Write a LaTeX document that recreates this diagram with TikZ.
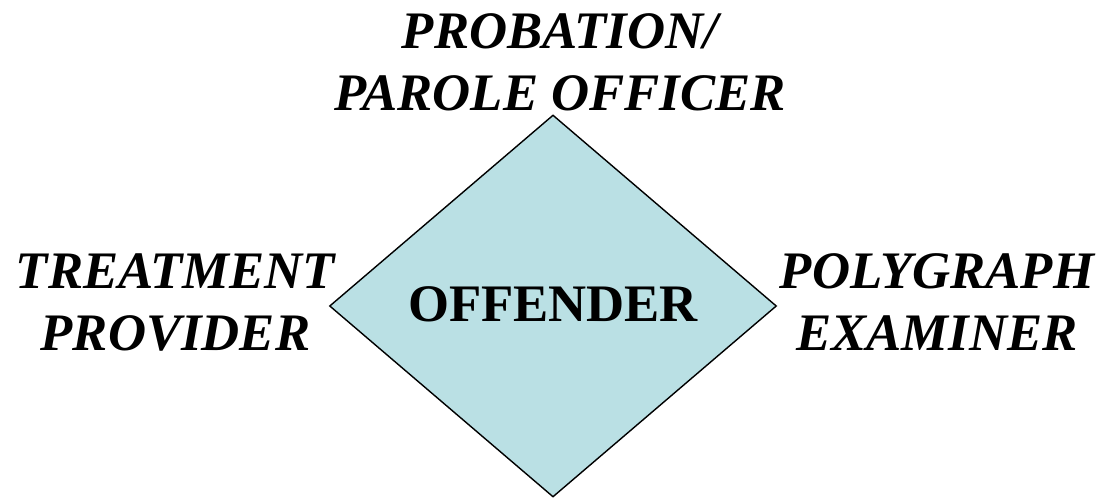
\documentclass[tikz,border=0pt]{standalone}
\usepackage{fontspec}
\setmainfont{Liberation Serif}
\usetikzlibrary{shapes.geometric,positioning}
\definecolor{paleblue}{HTML}{BAE0E4}

\begin{document}
\begin{tikzpicture} [node distance=7.6cm]
\useasboundingbox (0,0) rectangle (22,9.98);
\tikzset{role/.style={align=center, inner sep=0pt, font=\fontsize{30}{35.5}\selectfont\bfseries\itshape}}
\node[diamond, draw, line width=0.8pt, fill=paleblue, inner sep=0pt, minimum width=8.94cm, minimum height=7.64cm,
      font=\fontsize{30}{36}\selectfont\bfseries] (off) at (11.06,3.86) {\raisebox{0.08cm}{OFFENDER}};
\node[role, left of=off, xshift=0.05cm, yshift=0.07cm] (treat) {TREATMENT\\PROVIDER};
\node[role, right of=off, xshift=0.08cm, yshift=0.08cm] (poly) {POLYGRAPH\\EXAMINER};
\node[role, above of=off, node distance=4.87cm, xshift=0.14cm] (po) {PROBATION/\\PAROLE OFFICER};
\end{tikzpicture}
\end{document}
